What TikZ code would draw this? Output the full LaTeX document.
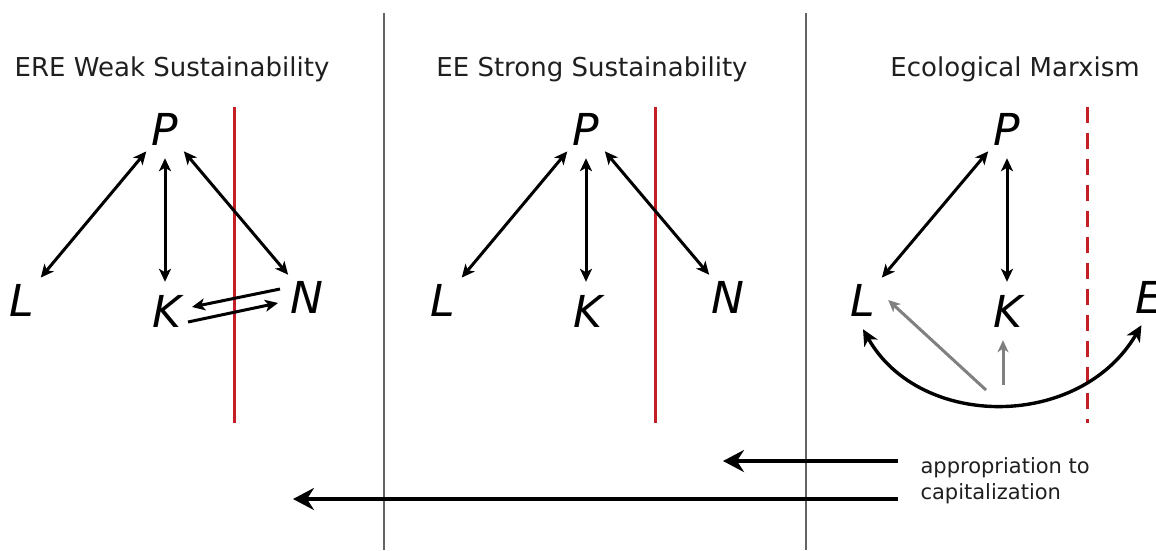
\documentclass[tikz,border=0pt]{standalone}
\usepackage{fontspec}
\setmainfont{DejaVu Sans}
\usetikzlibrary{arrows.meta}
\definecolor{redline}{RGB}{196,30,38}
\definecolor{divider}{RGB}{100,100,100}
\definecolor{grayarrow}{RGB}{128,128,128}
\begin{document}
\begin{tikzpicture}[x=1pt,y=-1pt,
  var/.style={circle,minimum size=58pt,inner sep=0pt,font=\fontsize{44}{44}\selectfont\itshape},
  title/.style={anchor=base,font=\fontsize{26}{30}\selectfont,text=black!88},
  dbl/.style={{Stealth[length=13pt,width=12pt,inset=3.5pt]}-{Stealth[length=13pt,width=12pt,inset=3.5pt]},line width=3pt},
  one/.style={-{Stealth[length=13pt,width=12pt,inset=3.5pt]},line width=3pt},
  grayarr/.style={-{Stealth[length=12pt,width=11pt,inset=3.5pt]},line width=3pt,grayarrow},
  curvarr/.style={{Stealth[length=16pt,width=15pt,inset=4.5pt]}-{Stealth[length=16pt,width=15pt,inset=4.5pt]},line width=3.4pt},
  bigarr/.style={-{Stealth[length=21pt,width=22pt,inset=7pt]},line width=4.6pt},
  redsep/.style={redline,line width=3pt},
  divline/.style={divider,line width=1.5pt}]
\useasboundingbox (0,0) rectangle (1156,550);
\clip (0,0) rectangle (1156,550);
\fill[white] (0,0) rectangle (1156,550);

% dividers
\draw[divline] (384,13) -- (384,550);
\draw[divline] (806,13) -- (806,550);

% titles
\node[title] (t1) at (172,76) {ERE Weak Sustainability};
\node[title] (t2) at (592,76) {EE Strong Sustainability};
\node[title] (t3) at (1015,76) {Ecological Marxism};

% red separators
\draw[redsep] (234,107) -- (234,423);
\draw[redsep] (655,107) -- (655,423);
\draw[redsep,dash pattern=on 16pt off 10pt] (1087,107) -- (1087,423);

% left panel
\node[var] (P1) at (165,129) {P};
\node[var] (L1) at (22,300) {L};
\node[var] (K1) at (167,311) {K};
\node[var] (N1) at (307,297) {N};
\draw[dbl] (L1) -- (P1);
\draw[dbl] (P1.south) -- (P1.south |- K1.north);
\draw[dbl] (P1) -- (N1);
\draw[one] ([xshift=-27pt,yshift=8pt]N1.center) -- ([xshift=25pt,yshift=4pt]K1.center);
\draw[one] ([xshift=21pt,yshift=-11pt]K1.center) -- ([xshift=-29pt,yshift=-6pt]N1.center);

% middle panel
\node[var] (P2) at (586,129) {P};
\node[var] (L2) at (443,300) {L};
\node[var] (K2) at (588,311) {K};
\node[var] (N2) at (728,297) {N};
\draw[dbl] (L2) -- (P2);
\draw[dbl] (P2.south) -- (P2.south |- K2.north);
\draw[dbl] (P2) -- (N2);

% right panel
\node[var] (P3) at (1007,129) {P};
\node[var] (L3) at (863,300) {L};
\node[var] (K3) at (1008,311) {K};
\node[var] (E3) at (1149,297) {E};
\draw[dbl] (L3) -- (P3);
\draw[dbl] (P3.south) -- (P3.south |- K3.north);
\coordinate (g1) at (986,390);
\coordinate (g2) at (1003,385);
\draw[grayarr] (g1) -- ([xshift=-4pt]L3.east);
\draw[grayarr] (g2) -- (g2 |- K3.south);
\draw[curvarr] (L3.south) .. controls (920,430) and (1080,430) .. (E3.255);

% bottom arrows and label
\node[anchor=base west,align=left,font=\fontsize{21}{26}\selectfont,text=black!88] (lbl) at (917,499) {appropriation to\\capitalization};
\coordinate (s1) at (898,461);
\coordinate (e1) at (723,461);
\coordinate (s2) at (898,499);
\coordinate (e2) at (293,499);
\draw[bigarr] (s1) -- (e1);
\draw[bigarr] (s2) -- (e2);
\end{tikzpicture}
\end{document}
